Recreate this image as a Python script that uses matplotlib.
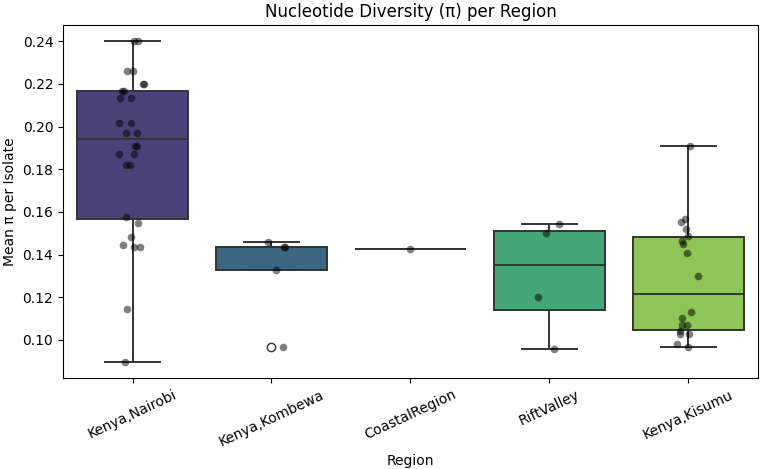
import numpy as np
import matplotlib
matplotlib.use('Agg')
import matplotlib.pyplot as plt
import pandas as pd
import seaborn as sns

# region order as shown on the x axis
regions = ['Kenya,Nairobi', 'Kenya,Kombewa', 'CoastalRegion', 'RiftValley', 'Kenya,Kisumu']

# mean pi per isolate
nairobi = [0.240, 0.240, 0.226, 0.226, 0.220, 0.220, 0.2166, 0.2166, 0.2135, 0.2135,
           0.2015, 0.2015, 0.197, 0.197, 0.191, 0.191, 0.1873, 0.1873, 0.1818, 0.1818,
           0.1574, 0.155, 0.1484, 0.1445, 0.1435, 0.1435, 0.1144, 0.0897]
kombewa = [0.1457, 0.1435, 0.1435, 0.133, 0.0967]
coastal = [0.1428]
rift = [0.1542, 0.150, 0.1203, 0.096]
kisumu = [0.191, 0.1565, 0.1554, 0.152, 0.1489, 0.1464, 0.1448, 0.1409, 0.1301,
          0.1133, 0.1105, 0.107, 0.107, 0.1042, 0.103, 0.103, 0.098, 0.0967]

values = [nairobi, kombewa, coastal, rift, kisumu]
df = pd.DataFrame({
    'Region': [r for r, v in zip(regions, values) for _ in v],
    'pi': [x for v in values for x in v],
})

np.random.seed(3)
fig = plt.figure(figsize=(7.64, 4.69), dpi=100)
ax = fig.add_axes([0.0825, 0.194, 0.9095, 0.7525])

sns.boxplot(data=df, x='Region', y='pi', hue='Region', order=regions, hue_order=regions,
            palette='viridis', legend=False, linewidth=1.4, linecolor='#333333', ax=ax)
sns.stripplot(data=df, x='Region', y='pi', order=regions, color='black', alpha=0.5,
              size=5.5, jitter=True, ax=ax)

ax.set_title('Nucleotide Diversity (π) per Region', fontsize=12)
ax.set_xlabel('Region', fontsize=10)
ax.set_ylabel('Mean π per Isolate', fontsize=10)
plt.setp(ax.get_xticklabels(), rotation=25, ha='center')

fig.savefig('out.png', dpi=100)
